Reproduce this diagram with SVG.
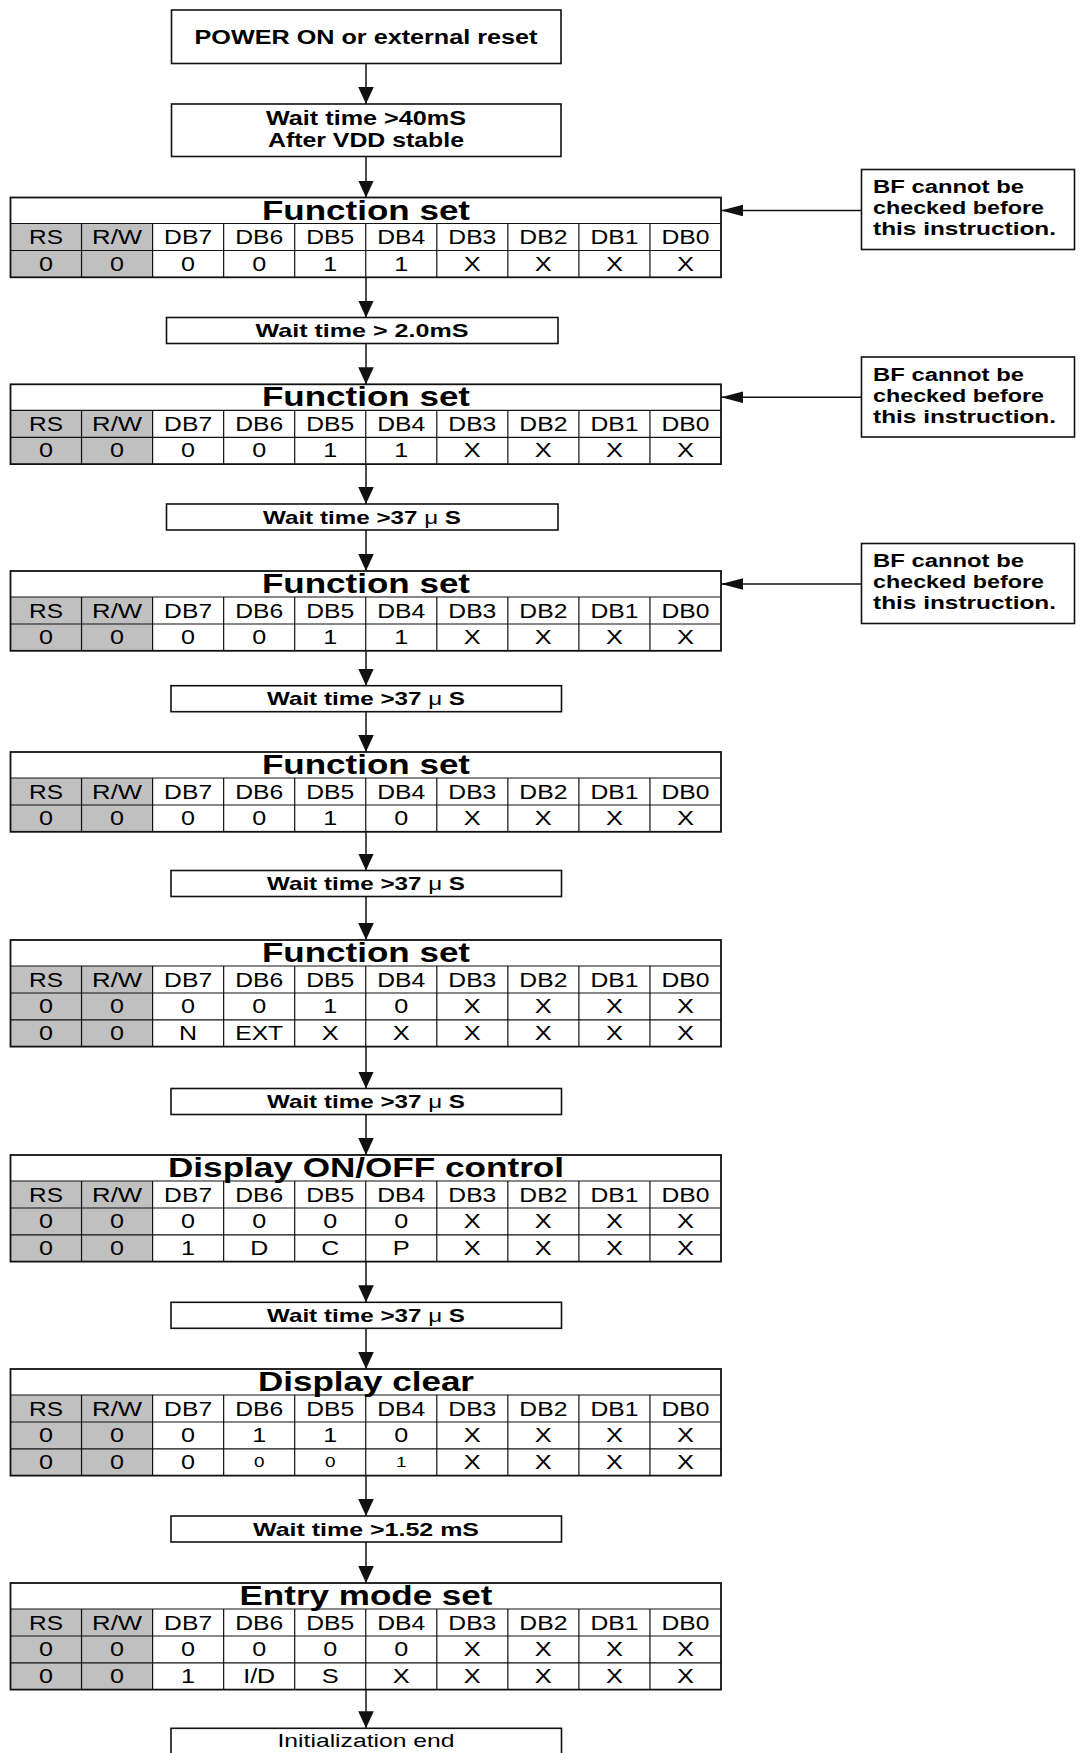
<svg xmlns="http://www.w3.org/2000/svg" xmlns:xlink="http://www.w3.org/1999/xlink" width="1084" height="1753" viewBox="0 0 1084 1753">
<style>
.bx{fill:#fff;stroke:#111;stroke-width:1.6}
.ol{fill:none;stroke:#111;stroke-width:1.8}
.ln{stroke:#111;stroke-width:1.2;fill:none}
.gr{fill:#c0c0c0}
.cn{stroke:#111;stroke-width:1.5;fill:none}
text{font-family:"Liberation Sans",Arial,sans-serif;fill:#000;text-anchor:middle}
.b{font-weight:bold}
.tp{font-size:19.5px}
.w{font-size:18.5px}
.ttl{font-size:27px;font-weight:bold}
.c{font-size:19.5px}
.s{font-size:14.5px}
.bf{font-size:18px;font-weight:bold;text-anchor:start}
.mu{font-weight:normal}
</style>
<defs>
<marker id="av" markerUnits="userSpaceOnUse" markerWidth="17" markerHeight="16" refX="17" refY="7.8" orient="auto"><path d="M0,0L17,7.8L0,15.6z" fill="#111"/></marker>
<marker id="ah" markerUnits="userSpaceOnUse" markerWidth="22" markerHeight="12" refX="22" refY="5.75" orient="auto"><path d="M0,0L22,5.75L0,11.5z" fill="#111"/></marker>
<g id="grid1">
<rect class="gr" x="10.5" y="26" width="142.1" height="53.8"/>
<path class="ln" d="M10.5,26H721M10.5,53H721M81.55,26V79.8M152.6,26V79.8M223.65,26V79.8M294.7,26V79.8M365.75,26V79.8M436.8,26V79.8M507.85,26V79.8M578.9,26V79.8M649.95,26V79.8"/>
<rect class="ol" x="10.5" y="0" width="710.5" height="79.8"/>
</g>
<g id="grid2">
<rect class="gr" x="10.5" y="26" width="142.1" height="80.6"/>
<path class="ln" d="M10.5,26H721M10.5,53H721M10.5,79.8H721M81.55,26V106.6M152.6,26V106.6M223.65,26V106.6M294.7,26V106.6M365.75,26V106.6M436.8,26V106.6M507.85,26V106.6M578.9,26V106.6M649.95,26V106.6"/>
<rect class="ol" x="10.5" y="0" width="710.5" height="106.6"/>
</g>
<g id="hdr" class="c">
<text x="46.03" y="46.5" textLength="34" lengthAdjust="spacingAndGlyphs">RS</text>
<text x="117.08" y="46.5" textLength="50" lengthAdjust="spacingAndGlyphs">R/W</text>
<text x="188.13" y="46.5" textLength="48" lengthAdjust="spacingAndGlyphs">DB7</text>
<text x="259.18" y="46.5" textLength="48" lengthAdjust="spacingAndGlyphs">DB6</text>
<text x="330.23" y="46.5" textLength="48" lengthAdjust="spacingAndGlyphs">DB5</text>
<text x="401.28" y="46.5" textLength="48" lengthAdjust="spacingAndGlyphs">DB4</text>
<text x="472.33" y="46.5" textLength="48" lengthAdjust="spacingAndGlyphs">DB3</text>
<text x="543.38" y="46.5" textLength="48" lengthAdjust="spacingAndGlyphs">DB2</text>
<text x="614.43" y="46.5" textLength="48" lengthAdjust="spacingAndGlyphs">DB1</text>
<text x="685.48" y="46.5" textLength="48" lengthAdjust="spacingAndGlyphs">DB0</text>
</g>
<g id="rw1" class="c">
<text x="46.03" y="73" textLength="14" lengthAdjust="spacingAndGlyphs">0</text>
<text x="117.08" y="73" textLength="14" lengthAdjust="spacingAndGlyphs">0</text>
</g>
<g id="rw2" class="c">
<text x="46.03" y="99.8" textLength="14" lengthAdjust="spacingAndGlyphs">0</text>
<text x="117.08" y="99.8" textLength="14" lengthAdjust="spacingAndGlyphs">0</text>
</g>
<g id="xx1" class="c">
<text x="472.33" y="73" textLength="17" lengthAdjust="spacingAndGlyphs">X</text>
<text x="543.38" y="73" textLength="17" lengthAdjust="spacingAndGlyphs">X</text>
<text x="614.43" y="73" textLength="17" lengthAdjust="spacingAndGlyphs">X</text>
<text x="685.48" y="73" textLength="17" lengthAdjust="spacingAndGlyphs">X</text>
</g>
<g id="xx2" class="c">
<text x="472.33" y="99.8" textLength="17" lengthAdjust="spacingAndGlyphs">X</text>
<text x="543.38" y="99.8" textLength="17" lengthAdjust="spacingAndGlyphs">X</text>
<text x="614.43" y="99.8" textLength="17" lengthAdjust="spacingAndGlyphs">X</text>
<text x="685.48" y="99.8" textLength="17" lengthAdjust="spacingAndGlyphs">X</text>
</g>
</defs>
<rect x="0" y="0" width="1084" height="1753" fill="#fff"/>

<g id="connectors">
<path class="cn" marker-end="url(#av)" d="M366,63.5V104"/>
<path class="cn" marker-end="url(#av)" d="M366,156.5V197.5"/>
<path class="cn" marker-end="url(#av)" d="M366,277.3V317.5"/>
<path class="cn" marker-end="url(#av)" d="M366,343.5V384.3"/>
<path class="cn" marker-end="url(#av)" d="M366,464.1V504"/>
<path class="cn" marker-end="url(#av)" d="M366,530V571"/>
<path class="cn" marker-end="url(#av)" d="M366,650.8V685.7"/>
<path class="cn" marker-end="url(#av)" d="M366,711.7V752"/>
<path class="cn" marker-end="url(#av)" d="M366,831.8V870.5"/>
<path class="cn" marker-end="url(#av)" d="M366,896.5V940"/>
<path class="cn" marker-end="url(#av)" d="M366,1046.6V1088.5"/>
<path class="cn" marker-end="url(#av)" d="M366,1114.5V1155"/>
<path class="cn" marker-end="url(#av)" d="M366,1261.6V1302.3"/>
<path class="cn" marker-end="url(#av)" d="M366,1328.3V1369"/>
<path class="cn" marker-end="url(#av)" d="M366,1475.6V1516"/>
<path class="cn" marker-end="url(#av)" d="M366,1542V1583"/>
<path class="cn" marker-end="url(#av)" d="M366,1689.6V1728.3"/>
<path class="cn" marker-end="url(#ah)" d="M861.5,210.5H721"/>
<path class="cn" marker-end="url(#ah)" d="M861.5,397.3H721"/>
<path class="cn" marker-end="url(#ah)" d="M861.5,584H721"/>
</g>

<g id="n-power">
<rect class="bx" x="171.5" y="10" width="389.5" height="53.5"/>
<text class="b tp" x="366" y="43.8" textLength="343" lengthAdjust="spacingAndGlyphs">POWER ON or external reset</text>
</g>
<g id="n-wait40">
<rect class="bx" x="171.5" y="104" width="389.5" height="52.5"/>
<text class="b tp" x="366" y="124.8" textLength="200" lengthAdjust="spacingAndGlyphs">Wait time &gt;40mS</text>
<text class="b tp" x="366" y="147.3" textLength="196" lengthAdjust="spacingAndGlyphs">After VDD stable</text>
</g>

<g id="bf1">
<rect class="bx" x="861.5" y="169.5" width="213" height="80"/>
<text class="bf" x="873" y="193.3" textLength="151" lengthAdjust="spacingAndGlyphs">BF cannot be</text>
<text class="bf" x="873" y="214.3" textLength="171" lengthAdjust="spacingAndGlyphs">checked before</text>
<text class="bf" x="873" y="235.3" textLength="183" lengthAdjust="spacingAndGlyphs">this instruction.</text>
</g>
<g id="bf2">
<rect class="bx" x="861.5" y="357" width="213" height="80"/>
<text class="bf" x="873" y="380.8" textLength="151" lengthAdjust="spacingAndGlyphs">BF cannot be</text>
<text class="bf" x="873" y="401.8" textLength="171" lengthAdjust="spacingAndGlyphs">checked before</text>
<text class="bf" x="873" y="422.8" textLength="183" lengthAdjust="spacingAndGlyphs">this instruction.</text>
</g>
<g id="bf3">
<rect class="bx" x="861.5" y="543.5" width="213" height="80"/>
<text class="bf" x="873" y="567.3" textLength="151" lengthAdjust="spacingAndGlyphs">BF cannot be</text>
<text class="bf" x="873" y="588.3" textLength="171" lengthAdjust="spacingAndGlyphs">checked before</text>
<text class="bf" x="873" y="609.3" textLength="183" lengthAdjust="spacingAndGlyphs">this instruction.</text>
</g>

<g id="t1" transform="translate(0,197.5)">
<use xlink:href="#grid1"/>
<text class="ttl" x="366" y="22" textLength="208" lengthAdjust="spacingAndGlyphs">Function set</text>
<use xlink:href="#hdr"/><use xlink:href="#rw1"/><use xlink:href="#xx1"/>
<g class="c">
<text x="188.13" y="73" textLength="14" lengthAdjust="spacingAndGlyphs">0</text>
<text x="259.18" y="73" textLength="14" lengthAdjust="spacingAndGlyphs">0</text>
<text x="330.23" y="73" textLength="14" lengthAdjust="spacingAndGlyphs">1</text>
<text x="401.28" y="73" textLength="14" lengthAdjust="spacingAndGlyphs">1</text>
</g>
</g>

<g id="w1">
<rect class="bx" x="166.5" y="317.5" width="391.5" height="26"/>
<text class="b w" x="362" y="337.2" textLength="213" lengthAdjust="spacingAndGlyphs">Wait time &gt; 2.0mS</text>
</g>

<g id="t2" transform="translate(0,384.3)">
<use xlink:href="#grid1"/>
<text class="ttl" x="366" y="22" textLength="208" lengthAdjust="spacingAndGlyphs">Function set</text>
<use xlink:href="#hdr"/><use xlink:href="#rw1"/><use xlink:href="#xx1"/>
<g class="c">
<text x="188.13" y="73" textLength="14" lengthAdjust="spacingAndGlyphs">0</text>
<text x="259.18" y="73" textLength="14" lengthAdjust="spacingAndGlyphs">0</text>
<text x="330.23" y="73" textLength="14" lengthAdjust="spacingAndGlyphs">1</text>
<text x="401.28" y="73" textLength="14" lengthAdjust="spacingAndGlyphs">1</text>
</g>
</g>

<g id="w2">
<rect class="bx" x="166.5" y="504" width="391.5" height="26"/>
<text class="b w" x="362" y="523.7" textLength="198" lengthAdjust="spacingAndGlyphs">Wait time &gt;37 <tspan class="mu">μ</tspan> S</text>
</g>

<g id="t3" transform="translate(0,571)">
<use xlink:href="#grid1"/>
<text class="ttl" x="366" y="22" textLength="208" lengthAdjust="spacingAndGlyphs">Function set</text>
<use xlink:href="#hdr"/><use xlink:href="#rw1"/><use xlink:href="#xx1"/>
<g class="c">
<text x="188.13" y="73" textLength="14" lengthAdjust="spacingAndGlyphs">0</text>
<text x="259.18" y="73" textLength="14" lengthAdjust="spacingAndGlyphs">0</text>
<text x="330.23" y="73" textLength="14" lengthAdjust="spacingAndGlyphs">1</text>
<text x="401.28" y="73" textLength="14" lengthAdjust="spacingAndGlyphs">1</text>
</g>
</g>

<g id="w3">
<rect class="bx" x="171" y="685.7" width="390.5" height="26"/>
<text class="b w" x="366" y="705.4" textLength="198" lengthAdjust="spacingAndGlyphs">Wait time &gt;37 <tspan class="mu">μ</tspan> S</text>
</g>

<g id="t4" transform="translate(0,752)">
<use xlink:href="#grid1"/>
<text class="ttl" x="366" y="22" textLength="208" lengthAdjust="spacingAndGlyphs">Function set</text>
<use xlink:href="#hdr"/><use xlink:href="#rw1"/><use xlink:href="#xx1"/>
<g class="c">
<text x="188.13" y="73" textLength="14" lengthAdjust="spacingAndGlyphs">0</text>
<text x="259.18" y="73" textLength="14" lengthAdjust="spacingAndGlyphs">0</text>
<text x="330.23" y="73" textLength="14" lengthAdjust="spacingAndGlyphs">1</text>
<text x="401.28" y="73" textLength="14" lengthAdjust="spacingAndGlyphs">0</text>
</g>
</g>

<g id="w4">
<rect class="bx" x="171" y="870.5" width="390.5" height="26"/>
<text class="b w" x="366" y="890.2" textLength="198" lengthAdjust="spacingAndGlyphs">Wait time &gt;37 <tspan class="mu">μ</tspan> S</text>
</g>

<g id="t5" transform="translate(0,940)">
<use xlink:href="#grid2"/>
<text class="ttl" x="366" y="22" textLength="208" lengthAdjust="spacingAndGlyphs">Function set</text>
<use xlink:href="#hdr"/><use xlink:href="#rw1"/><use xlink:href="#xx1"/><use xlink:href="#rw2"/><use xlink:href="#xx2"/>
<g class="c">
<text x="188.13" y="73" textLength="14" lengthAdjust="spacingAndGlyphs">0</text>
<text x="259.18" y="73" textLength="14" lengthAdjust="spacingAndGlyphs">0</text>
<text x="330.23" y="73" textLength="14" lengthAdjust="spacingAndGlyphs">1</text>
<text x="401.28" y="73" textLength="14" lengthAdjust="spacingAndGlyphs">0</text>
<text x="188.13" y="99.8" textLength="18" lengthAdjust="spacingAndGlyphs">N</text>
<text x="259.18" y="99.8" textLength="48" lengthAdjust="spacingAndGlyphs">EXT</text>
<text x="330.23" y="99.8" textLength="17" lengthAdjust="spacingAndGlyphs">X</text>
<text x="401.28" y="99.8" textLength="17" lengthAdjust="spacingAndGlyphs">X</text>
</g>
</g>

<g id="w5">
<rect class="bx" x="171" y="1088.5" width="390.5" height="26"/>
<text class="b w" x="366" y="1108.2" textLength="198" lengthAdjust="spacingAndGlyphs">Wait time &gt;37 <tspan class="mu">μ</tspan> S</text>
</g>

<g id="t6" transform="translate(0,1155)">
<use xlink:href="#grid2"/>
<text class="ttl" x="366" y="22" textLength="396" lengthAdjust="spacingAndGlyphs">Display ON/OFF control</text>
<use xlink:href="#hdr"/><use xlink:href="#rw1"/><use xlink:href="#xx1"/><use xlink:href="#rw2"/><use xlink:href="#xx2"/>
<g class="c">
<text x="188.13" y="73" textLength="14" lengthAdjust="spacingAndGlyphs">0</text>
<text x="259.18" y="73" textLength="14" lengthAdjust="spacingAndGlyphs">0</text>
<text x="330.23" y="73" textLength="14" lengthAdjust="spacingAndGlyphs">0</text>
<text x="401.28" y="73" textLength="14" lengthAdjust="spacingAndGlyphs">0</text>
<text x="188.13" y="99.8" textLength="14" lengthAdjust="spacingAndGlyphs">1</text>
<text x="259.18" y="99.8" textLength="18" lengthAdjust="spacingAndGlyphs">D</text>
<text x="330.23" y="99.8" textLength="18" lengthAdjust="spacingAndGlyphs">C</text>
<text x="401.28" y="99.8" textLength="17" lengthAdjust="spacingAndGlyphs">P</text>
</g>
</g>

<g id="w6">
<rect class="bx" x="171" y="1302.3" width="390.5" height="26"/>
<text class="b w" x="366" y="1322" textLength="198" lengthAdjust="spacingAndGlyphs">Wait time &gt;37 <tspan class="mu">μ</tspan> S</text>
</g>

<g id="t7" transform="translate(0,1369)">
<use xlink:href="#grid2"/>
<text class="ttl" x="366" y="22" textLength="216" lengthAdjust="spacingAndGlyphs">Display clear</text>
<use xlink:href="#hdr"/><use xlink:href="#rw1"/><use xlink:href="#xx1"/><use xlink:href="#rw2"/><use xlink:href="#xx2"/>
<g class="c">
<text x="188.13" y="73" textLength="14" lengthAdjust="spacingAndGlyphs">0</text>
<text x="259.18" y="73" textLength="14" lengthAdjust="spacingAndGlyphs">1</text>
<text x="330.23" y="73" textLength="14" lengthAdjust="spacingAndGlyphs">1</text>
<text x="401.28" y="73" textLength="14" lengthAdjust="spacingAndGlyphs">0</text>
<text x="188.13" y="99.8" textLength="14" lengthAdjust="spacingAndGlyphs">0</text>
<text class="s" x="259.18" y="98" textLength="10.5" lengthAdjust="spacingAndGlyphs">0</text>
<text class="s" x="330.23" y="98" textLength="10.5" lengthAdjust="spacingAndGlyphs">0</text>
<text class="s" x="401.28" y="98" textLength="10.5" lengthAdjust="spacingAndGlyphs">1</text>
</g>
</g>

<g id="w7">
<rect class="bx" x="171" y="1516" width="390.5" height="26"/>
<text class="b w" x="366" y="1535.7" textLength="226" lengthAdjust="spacingAndGlyphs">Wait time &gt;1.52 mS</text>
</g>

<g id="t8" transform="translate(0,1583)">
<use xlink:href="#grid2"/>
<text class="ttl" x="366" y="22" textLength="253" lengthAdjust="spacingAndGlyphs">Entry mode set</text>
<use xlink:href="#hdr"/><use xlink:href="#rw1"/><use xlink:href="#xx1"/><use xlink:href="#rw2"/><use xlink:href="#xx2"/>
<g class="c">
<text x="188.13" y="73" textLength="14" lengthAdjust="spacingAndGlyphs">0</text>
<text x="259.18" y="73" textLength="14" lengthAdjust="spacingAndGlyphs">0</text>
<text x="330.23" y="73" textLength="14" lengthAdjust="spacingAndGlyphs">0</text>
<text x="401.28" y="73" textLength="14" lengthAdjust="spacingAndGlyphs">0</text>
<text x="188.13" y="99.8" textLength="14" lengthAdjust="spacingAndGlyphs">1</text>
<text x="259.18" y="99.8" textLength="32" lengthAdjust="spacingAndGlyphs">I/D</text>
<text x="330.23" y="99.8" textLength="17" lengthAdjust="spacingAndGlyphs">S</text>
<text x="401.28" y="99.8" textLength="17" lengthAdjust="spacingAndGlyphs">X</text>
</g>
</g>

<g id="n-end">
<rect class="bx" x="171" y="1728.3" width="390.5" height="32"/>
<text class="w" x="366" y="1747.2" textLength="177" lengthAdjust="spacingAndGlyphs">Initialization end</text>
</g>
</svg>
